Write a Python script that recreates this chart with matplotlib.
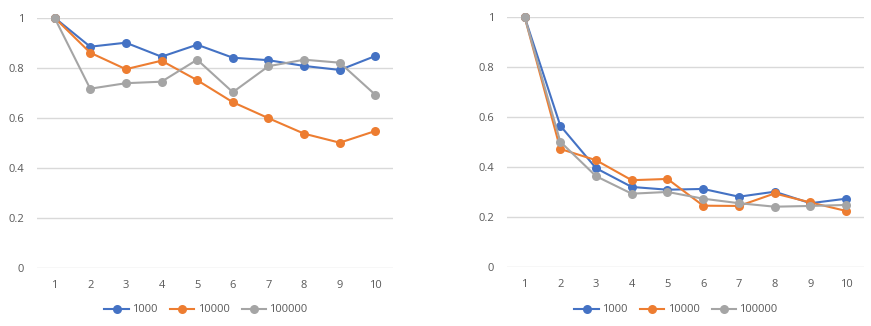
import matplotlib
matplotlib.use("Agg")
import matplotlib.pyplot as plt

categories = ["1", "2", "3", "4", "5", "6", "7", "8", "9", "10"]
series_names = ["1000", "10000", "100000"]

left_1000 = [1.0, 0.884, 0.900, 0.844, 0.892, 0.840, 0.830, 0.807, 0.791, 0.847]
left_10000 = [1.0, 0.860, 0.794, 0.828, 0.750, 0.662, 0.598, 0.536, 0.500, 0.547]
left_100000 = [1.0, 0.716, 0.738, 0.744, 0.832, 0.702, 0.806, 0.832, 0.820, 0.691]

right_1000 = [1.0, 0.564, 0.394, 0.319, 0.308, 0.311, 0.280, 0.300, 0.254, 0.272]
right_10000 = [1.0, 0.471, 0.426, 0.346, 0.351, 0.244, 0.243, 0.293, 0.257, 0.223]
right_100000 = [1.0, 0.500, 0.362, 0.292, 0.299, 0.272, 0.254, 0.240, 0.243, 0.247]

yticks = [0, 0.2, 0.4, 0.6, 0.8, 1]
ytick_labels = ["0", "0.2", "0.4", "0.6", "0.8", "1"]

colors = ["#4472C4", "#ED7D31", "#A5A5A5"]
text_color = "#595959"
grid_color = "#D9D9D9"

plt.rcParams["font.family"] = ["Open Sans", "DejaVu Sans"]

fig = plt.figure(figsize=(8.71, 3.26), dpi=100)
W, H = 871, 326

def make_ax(x0, x1, y_top, y_zero):
    return fig.add_axes([x0 / W, 1 - y_zero / H, (x1 - x0) / W, (y_zero - y_top) / H])

ax_left = make_ax(36.7, 393.3, 17.7, 267.7)
ax_right = make_ax(506.7, 864.0, 16.7, 266.7)

def draw(ax, data, legend_center_x):
    x = list(range(len(categories)))
    handles = []
    for vals, c, name in zip(data, colors, series_names):
        h, = ax.plot(x, vals, color=c, lw=1.5, marker="o", ms=6.5,
                     markeredgewidth=0, label=name, zorder=3, clip_on=False)
        handles.append(h)
    ax.set_xlim(-0.5, len(categories) - 0.5)
    ax.set_ylim(0, 1)
    ax.set_yticks(yticks)
    ax.set_yticklabels(ytick_labels)
    ax.set_xticks(x)
    ax.set_xticklabels(categories)
    ax.tick_params(axis="both", length=0, colors=text_color, labelsize=8)
    ax.tick_params(axis="y", pad=9)
    ax.tick_params(axis="x", pad=9)
    for s in ax.spines.values():
        s.set_visible(False)
    ax.grid(axis="y", color=grid_color, lw=1)
    ax.set_axisbelow(True)
    leg = fig.legend(handles=handles, loc="center",
                     bbox_to_anchor=(legend_center_x / W, 1 - 310 / H),
                     ncol=3, frameon=False, fontsize=8, handlelength=2.2,
                     columnspacing=1.1, handletextpad=0.3, labelcolor=text_color)
    return leg

draw(ax_left, [left_1000, left_10000, left_100000], 206)
draw(ax_right, [right_1000, right_10000, right_100000], 676)

fig.savefig("out.png", dpi=100, facecolor="white")
